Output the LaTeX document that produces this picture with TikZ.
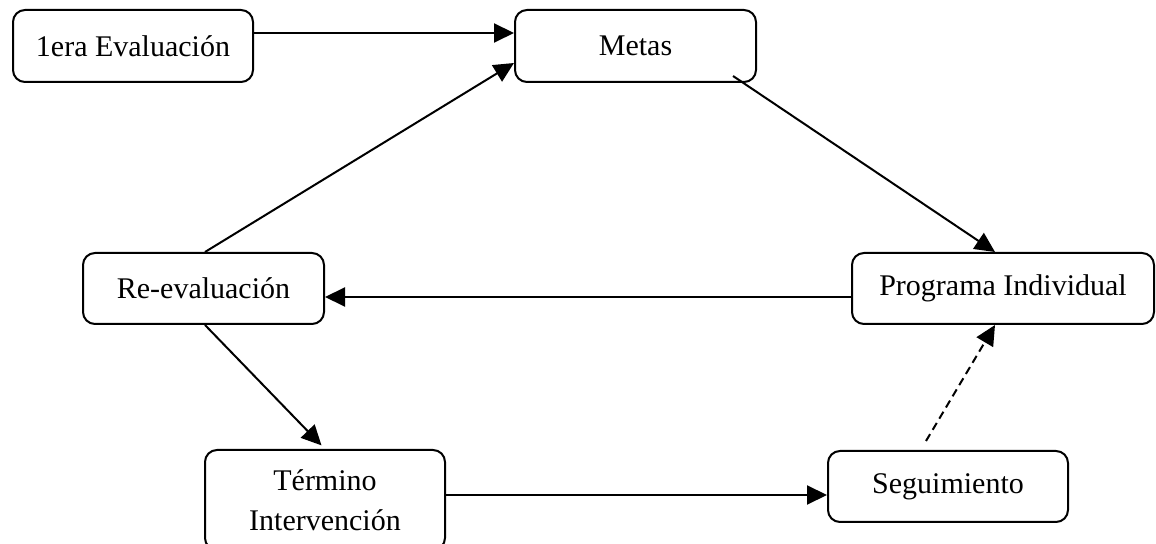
\documentclass[tikz,border=0pt]{standalone}
\usepackage{fontspec}
\setmainfont{Liberation Serif}
\usetikzlibrary{arrows.meta}
\begin{document}
\begin{tikzpicture}[x=0.5pt,y=-0.5pt,
  box/.style={draw,line width=1pt,rounded corners=6pt,minimum width=120pt,minimum height=35.5pt,inner sep=0pt,align=center,font=\fontsize{15}{20}\selectfont},
  arr/.style={line width=1pt,-{Triangle[length=10pt,width=9.5pt]}}]
\useasboundingbox (0,0) rectangle (1156,544);
\node[box,minimum height=36pt] (ev1) at (133,46) {1era Evaluación};
\node[box,minimum width=120.5pt,minimum height=36pt] (metas) at (635.5,46) {Metas};
\node[box,minimum width=120.5pt] (reev) at (203.5,288.5) {Re-evaluación};
\node[box,minimum width=151pt] (prog) at (1003,288.5) {Programa Individual};
\node[box,minimum height=50pt] (term) at (325,500) {Término\\Intervención};
\node[box] (seg) at (948,486.5) {Seguimiento};
\draw[arr] ([yshift=6.5pt]ev1.east) -- ([yshift=6.5pt]metas.west);
\draw[arr] ([xshift=0.75pt]reev.north) -- ([yshift=10pt]metas.south west);
\draw[arr] ([xshift=-12pt,yshift=3.5pt]metas.south east) -- ([xshift=-4pt]prog.north);
\draw[arr] ([yshift=-4.25pt]prog.west) -- ([yshift=-4.25pt]reev.east);
\draw[arr,shorten >=2.5pt] ([xshift=0.75pt]reev.south) -- (term.north);
\draw[arr] ([yshift=2.5pt]term.east) -- ([yshift=2.5pt]term.east -| seg.west);
\draw[arr,dash pattern=on 4pt off 2.5pt] ([xshift=-11pt,yshift=4.5pt]seg.north) -- ([xshift=-4pt]prog.south);
\end{tikzpicture}
\end{document}
